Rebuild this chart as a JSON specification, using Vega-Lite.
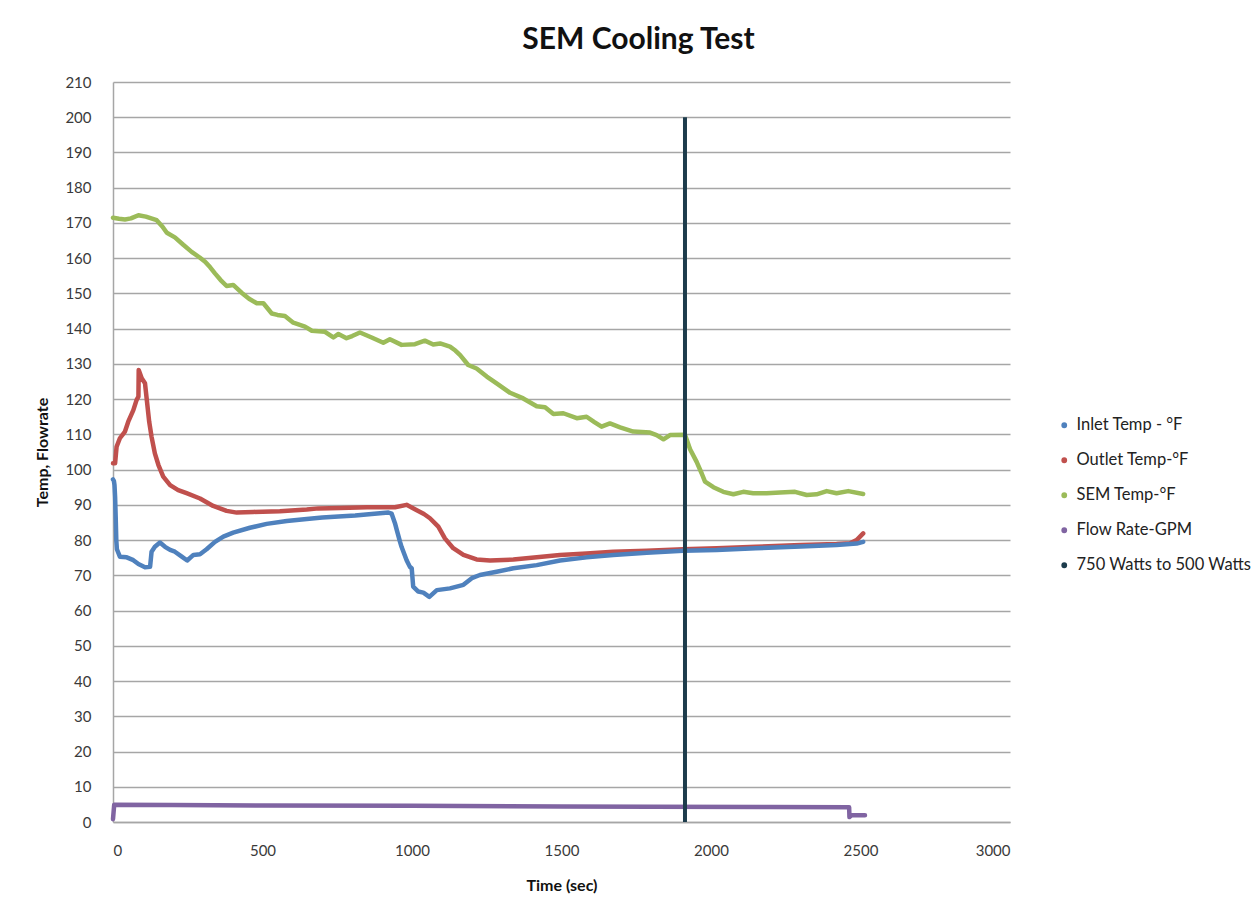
{
  "$schema": "https://vega.github.io/schema/vega-lite/v6.json",
  "autosize": {"type": "none"},
  "width": 897,
  "height": 740,
  "padding": {"left": 113, "top": 82, "right": 247, "bottom": 79},
  "background": "white",
  "config": {
    "font": "Lato",
    "view": {"stroke": null},
    "axis": {
      "labelFont": "Lato", "labelFontSize": 15, "labelColor": "#3a3a3a",
      "titleFont": "Lato", "titleFontSize": 16, "titleFontWeight": "bold", "titleColor": "#111111",
      "ticks": false, "domainColor": "#a6a6a6", "domainWidth": 1.5,
      "gridColor": "#a6a6a6", "gridWidth": 1.5
    },
    "legend": {"labelFont": "Lato", "labelFontSize": 16.5, "labelColor": "#222222", "labelLimit": 400}
  },
  "title": {
    "text": "SEM Cooling Test",
    "font": "Lato", "fontSize": 30, "fontWeight": "bold", "color": "#111111",
    "anchor": "middle", "dx": 77, "offset": 20
  },
  "datasets": {
    "inlet": [
      {"t":0,"v":97.2},{"t":3,"v":96.8},{"t":5,"v":95.6},{"t":7,"v":92.3},{"t":9,"v":86.6},{"t":11,"v":80.0},{"t":13,"v":77.4},
      {"t":23,"v":75.3},{"t":46,"v":75.1},{"t":68,"v":74.3},{"t":85,"v":73.2},{"t":107,"v":72.3},{"t":124,"v":72.4},
      {"t":129,"v":76.7},{"t":140,"v":78.1},{"t":157,"v":79.3},{"t":174,"v":78.1},{"t":191,"v":77.2},{"t":207,"v":76.7},
      {"t":230,"v":75.3},{"t":248,"v":74.2},{"t":269,"v":75.8},{"t":291,"v":76.0},{"t":313,"v":77.4},{"t":341,"v":79.5},
      {"t":369,"v":81.0},{"t":402,"v":82.1},{"t":458,"v":83.5},{"t":514,"v":84.6},{"t":581,"v":85.4},{"t":648,"v":86.0},
      {"t":700,"v":86.4},{"t":754,"v":86.7},{"t":810,"v":87.0},{"t":865,"v":87.4},{"t":921,"v":87.8},{"t":932,"v":87.5},
      {"t":943,"v":84.8},{"t":949,"v":82.9},{"t":960,"v":79.5},{"t":965,"v":78.1},{"t":982,"v":74.3},{"t":993,"v":72.4},
      {"t":999,"v":72.0},{"t":1004,"v":66.8},{"t":1021,"v":65.4},{"t":1038,"v":65.1},{"t":1058,"v":63.9},{"t":1083,"v":65.8},
      {"t":1127,"v":66.3},{"t":1172,"v":67.3},{"t":1200,"v":69.2},{"t":1227,"v":70.1},{"t":1283,"v":71.0},{"t":1339,"v":72.0},
      {"t":1417,"v":72.9},{"t":1495,"v":74.2},{"t":1584,"v":75.1},{"t":1673,"v":75.8},{"t":1785,"v":76.4},{"t":1907,"v":77.0},
      {"t":2019,"v":77.2},{"t":2150,"v":77.7},{"t":2300,"v":78.2},{"t":2420,"v":78.6},{"t":2487,"v":79.0},{"t":2509,"v":79.5}
    ],
    "outlet": [
      {"t":0,"v":101.8},{"t":7,"v":101.8},{"t":12,"v":106.5},{"t":23,"v":108.9},{"t":40,"v":110.8},{"t":51,"v":113.6},
      {"t":68,"v":116.9},{"t":79,"v":119.8},{"t":85,"v":120.7},{"t":86,"v":128.3},{"t":96,"v":125.9},{"t":107,"v":124.5},
      {"t":113,"v":119.8},{"t":121,"v":113.6},{"t":129,"v":109.3},{"t":140,"v":104.6},{"t":152,"v":101.3},{"t":168,"v":98.0},
      {"t":191,"v":95.6},{"t":218,"v":94.2},{"t":246,"v":93.3},{"t":291,"v":91.8},{"t":335,"v":89.7},{"t":380,"v":88.3},
      {"t":414,"v":87.8},{"t":469,"v":88.0},{"t":558,"v":88.2},{"t":648,"v":88.7},{"t":687,"v":89.0},{"t":760,"v":89.1},
      {"t":850,"v":89.3},{"t":943,"v":89.3},{"t":982,"v":90.0},{"t":1016,"v":88.5},{"t":1040,"v":87.4},{"t":1060,"v":86.2},
      {"t":1088,"v":83.8},{"t":1110,"v":80.5},{"t":1138,"v":77.7},{"t":1172,"v":75.8},{"t":1216,"v":74.5},{"t":1261,"v":74.2},
      {"t":1339,"v":74.5},{"t":1417,"v":75.1},{"t":1495,"v":75.8},{"t":1584,"v":76.2},{"t":1673,"v":76.7},{"t":1785,"v":77.0},
      {"t":1907,"v":77.4},{"t":2019,"v":77.7},{"t":2150,"v":78.1},{"t":2300,"v":78.6},{"t":2420,"v":78.9},{"t":2465,"v":79.1},
      {"t":2487,"v":80.0},{"t":2509,"v":81.9}
    ],
    "sem": [
      {"t":0,"v":171.5},{"t":20,"v":171.2},{"t":40,"v":171.0},{"t":60,"v":171.3},{"t":85,"v":172.2},{"t":110,"v":171.8},
      {"t":146,"v":170.8},{"t":165,"v":169.0},{"t":180,"v":167.2},{"t":207,"v":165.9},{"t":235,"v":163.8},{"t":263,"v":161.8},
      {"t":290,"v":160.2},{"t":308,"v":159.0},{"t":325,"v":157.4},{"t":341,"v":155.7},{"t":360,"v":153.8},{"t":380,"v":152.1},
      {"t":402,"v":152.4},{"t":430,"v":150.2},{"t":455,"v":148.5},{"t":481,"v":147.2},{"t":503,"v":147.2},{"t":531,"v":144.3},
      {"t":550,"v":143.9},{"t":575,"v":143.6},{"t":603,"v":141.7},{"t":642,"v":140.6},{"t":665,"v":139.4},{"t":709,"v":139.1},
      {"t":737,"v":137.5},{"t":754,"v":138.5},{"t":781,"v":137.3},{"t":800,"v":137.9},{"t":826,"v":138.9},{"t":865,"v":137.5},
      {"t":904,"v":136.0},{"t":926,"v":137.0},{"t":965,"v":135.4},{"t":1010,"v":135.6},{"t":1043,"v":136.6},{"t":1071,"v":135.5},
      {"t":1094,"v":135.8},{"t":1127,"v":134.9},{"t":1145,"v":133.8},{"t":1161,"v":132.5},{"t":1188,"v":129.7},{"t":1216,"v":128.7},
      {"t":1250,"v":126.4},{"t":1283,"v":124.5},{"t":1328,"v":121.8},{"t":1372,"v":120.2},{"t":1417,"v":118.0},{"t":1445,"v":117.7},
      {"t":1473,"v":115.8},{"t":1506,"v":116.0},{"t":1551,"v":114.6},{"t":1584,"v":115.0},{"t":1610,"v":113.5},{"t":1634,"v":112.2},
      {"t":1662,"v":113.1},{"t":1696,"v":112.0},{"t":1740,"v":110.8},{"t":1796,"v":110.5},{"t":1818,"v":109.8},{"t":1841,"v":108.6},
      {"t":1863,"v":109.8},{"t":1913,"v":109.9},{"t":1930,"v":105.8},{"t":1952,"v":102.2},{"t":1969,"v":98.9},{"t":1980,"v":96.6},
      {"t":2008,"v":95.0},{"t":2041,"v":93.7},{"t":2075,"v":93.0},{"t":2108,"v":93.7},{"t":2141,"v":93.3},{"t":2186,"v":93.3},
      {"t":2231,"v":93.5},{"t":2281,"v":93.7},{"t":2320,"v":92.8},{"t":2353,"v":93.0},{"t":2387,"v":93.9},{"t":2420,"v":93.3},
      {"t":2459,"v":93.9},{"t":2509,"v":93.1}
    ],
    "flow": [
      {"t":0,"v":0.8},{"t":4,"v":4.9},{"t":200,"v":4.8},{"t":500,"v":4.7},{"t":1000,"v":4.6},{"t":1500,"v":4.4},
      {"t":1800,"v":4.3},{"t":2200,"v":4.25},{"t":2462,"v":4.2},{"t":2463,"v":1.4},{"t":2470,"v":1.9},{"t":2515,"v":1.9}
    ],
    "watts": [
      {"t":1913,"v":0},{"t":1913,"v":200}
    ]
  },
  "encoding": {
    "x": {
      "field": "t", "type": "quantitative", "title": "Time (sec)",
      "scale": {"domain": [0, 3000], "nice": false},
      "axis": {"values": [0,500,1000,1500,2000,2500,3000], "format": "d", "grid": false, "labelPadding": 21, "titlePadding": 19, "domain": true,
               "labelFontSize": 15, "titleFontSize": 16, "titleFontWeight": "bold"}
    },
    "y": {
      "field": "v", "type": "quantitative", "title": "Temp, Flowrate",
      "scale": {"domain": [0, 210], "nice": false},
      "axis": {"values": [0,10,20,30,40,50,60,70,80,90,100,110,120,130,140,150,160,170,180,190,200,210], "grid": true, "labelPadding": 22, "titlePadding": 14,
               "labelFontSize": 15, "titleFontSize": 16, "titleFontWeight": "bold"}
    },
    "color": {
      "datum": "Inlet Temp - °F",
      "type": "nominal",
      "scale": {
        "domain": ["Inlet Temp - °F", "Outlet Temp-°F", "SEM Temp-°F", "Flow Rate-GPM", "750 Watts to 500 Watts"],
        "range": ["#4F81BD", "#C0504D", "#9BBB59", "#8064A2", "#1d3c4c"]
      },
      "legend": {
        "title": null, "orient": "none", "legendX": 943, "legendY": 335,
        "symbolType": "circle", "symbolSize": 8, "symbolStrokeWidth": 3,
        "rowPadding": 18, "labelOffset": 4, "labelFontSize": 16.5, "labelLimit": 400
      }
    }
  },
  "layer": [
    {"data": {"name": "sem"}, "mark": {"type": "line", "strokeWidth": 4.5, "strokeCap": "round", "strokeJoin": "round"}, "encoding": {"color": {"datum": "SEM Temp-°F"}}},
    {"data": {"name": "outlet"}, "mark": {"type": "line", "strokeWidth": 4.5, "strokeCap": "round", "strokeJoin": "round"}, "encoding": {"color": {"datum": "Outlet Temp-°F"}}},
    {"data": {"name": "inlet"}, "mark": {"type": "line", "strokeWidth": 4.5, "strokeCap": "round", "strokeJoin": "round"}, "encoding": {"color": {"datum": "Inlet Temp - °F"}}},
    {"data": {"name": "flow"}, "mark": {"type": "line", "strokeWidth": 4.5, "strokeCap": "round", "strokeJoin": "round"}, "encoding": {"color": {"datum": "Flow Rate-GPM"}}},
    {"data": {"name": "watts"}, "mark": {"type": "line", "strokeWidth": 4, "strokeCap": "butt"}, "encoding": {"color": {"datum": "750 Watts to 500 Watts"}}}
  ]
}
